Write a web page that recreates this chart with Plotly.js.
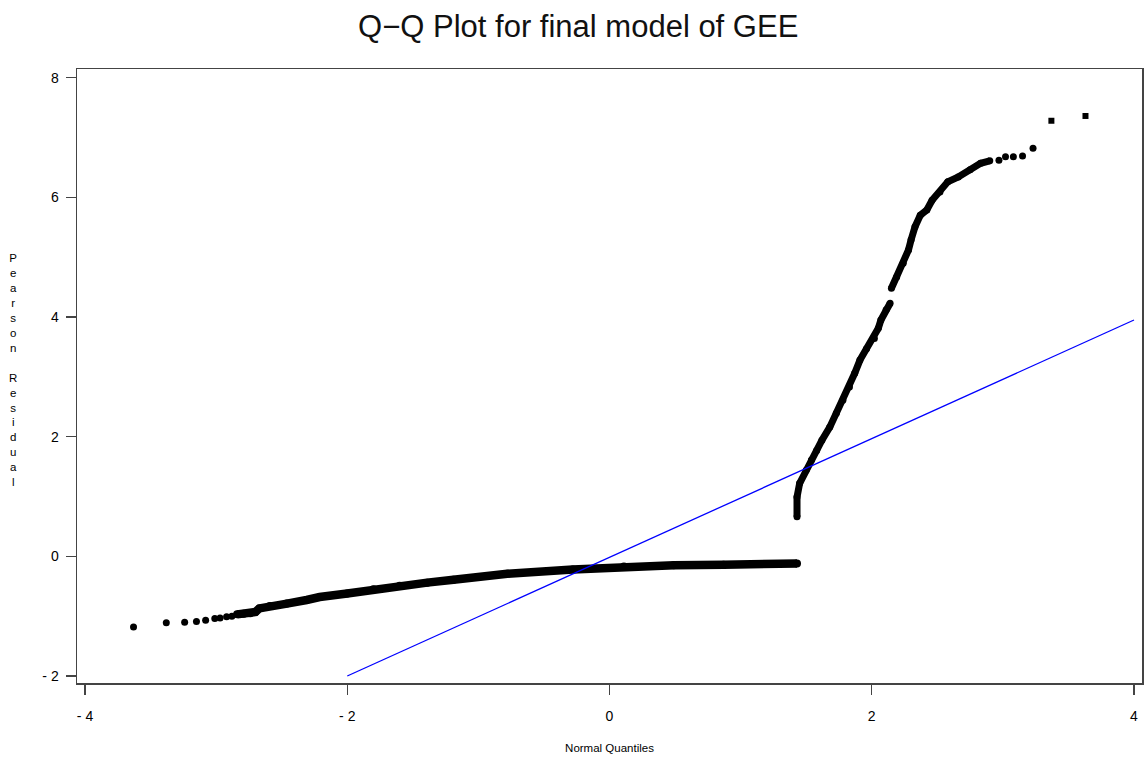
<!DOCTYPE html>
<html>
<head>
<meta charset="utf-8">
<script src="https://cdn.plot.ly/plotly-3.0.1.min.js"></script>
<style>html,body{margin:0;padding:0;background:#fff;}#chart{width:1145px;height:758px;}</style>
</head>
<body>
<div id="chart"></div>
<script>
// Lower tail (isolated points)
const lowTailX = [-3.63, -3.38, -3.24, -3.15, -3.08, -3.01, -2.97, -2.92, -2.88];
const lowTailY = [-1.18, -1.11, -1.10, -1.09, -1.07, -1.04, -1.03, -1.01, -1.00];
// Lower dense branch
const lowX = [-2.84, -2.79, -2.74, -2.70, -2.67, -2.59, -2.46, -2.31, -2.21, -2.00, -1.80, -1.60, -1.39, -1.19, -0.78, -0.28, 0.11, 0.49, 0.87, 1.25, 1.43];
const lowY = [-0.97, -0.96, -0.95, -0.93, -0.87, -0.83, -0.79, -0.73, -0.68, -0.62, -0.55, -0.49, -0.44, -0.39, -0.29, -0.22, -0.17, -0.15, -0.14, -0.13, -0.12];
// Upper dense branch
const upX = [1.43, 1.43, 1.45, 1.50, 1.54, 1.58, 1.62, 1.68, 1.73, 1.78, 1.83, 1.87, 1.91, 1.96, 2.02, 2.05, 2.07, 2.11, 2.14, null, 2.15, 2.19, 2.24, 2.28, 2.30, 2.33, 2.37, 2.42, 2.46, 2.52, 2.58, 2.66, 2.75, 2.83, 2.90];
const upY = [0.66, 0.99, 1.22, 1.44, 1.61, 1.77, 1.94, 2.16, 2.39, 2.61, 2.83, 3.06, 3.28, 3.47, 3.64, 3.81, 3.95, 4.12, 4.23, null, 4.48, 4.67, 4.90, 5.12, 5.29, 5.51, 5.70, 5.79, 5.95, 6.09, 6.26, 6.34, 6.46, 6.57, 6.61];
// Upper tail (isolated points)
const upTailX = [2.97, 3.02, 3.08, 3.15, 3.23];
const upTailY = [6.62, 6.68, 6.68, 6.69, 6.82];
// Extreme points (square symbols)
const extX = [3.37, 3.63];
const extY = [7.28, 7.36];
// Reference line
const refX = [-2, 4];
const refY = [-2.0, 3.95];

const xTicks = [-4, -2, 0, 2, 4];
const xTickText = ['- 4', '- 2', '0', '2', '4'];
const yTicks = [-2, 0, 2, 4, 6, 8];
const yTickText = ['- 2', '0', '2', '4', '6', '8'];

const black = '#000000';
const traces = [
  {x: lowTailX, y: lowTailY, mode: 'markers', type: 'scatter', marker: {color: black, size: 7}, hoverinfo: 'skip'},
  {x: lowX, y: lowY, mode: 'lines+markers', type: 'scatter', line: {color: black, width: 8.5}, marker: {color: black, size: 8}, hoverinfo: 'skip'},
  {x: upX, y: upY, mode: 'lines+markers', type: 'scatter', connectgaps: false, line: {color: black, width: 7}, marker: {color: black, size: 7}, hoverinfo: 'skip'},
  {x: upTailX, y: upTailY, mode: 'markers', type: 'scatter', marker: {color: black, size: 7}, hoverinfo: 'skip'},
  {x: extX, y: extY, mode: 'markers', type: 'scatter', marker: {color: black, size: 6, symbol: 'square'}, hoverinfo: 'skip'},
  {x: refX, y: refY, mode: 'lines', type: 'scatter', line: {color: '#0000ff', width: 1.3}, hoverinfo: 'skip'}
];

const layout = {
  width: 1145, height: 758,
  margin: {l: 77, r: 3, t: 69, b: 75},
  paper_bgcolor: '#ffffff', plot_bgcolor: '#ffffff',
  showlegend: false,
  font: {family: 'Liberation Sans, Arial, sans-serif', color: '#000'},
  title: {text: 'Q\u2212Q Plot for final model of GEE', x: 0.505, xanchor: 'center', y: 0.966, yanchor: 'middle',
          font: {size: 31, family: 'Liberation Sans, Arial, sans-serif', color: '#111'}},
  xaxis: {range: [-4.061, 4.061], tickvals: xTicks, ticktext: xTickText, ticks: 'outside', ticklen: 10, tickwidth: 1.3, tickcolor: '#444',
          showline: true, mirror: true, linecolor: '#444', linewidth: 1.5, showgrid: false, zeroline: false,
          tickfont: {size: 14, color: '#000'}, ticklabelstandoff: 10,
          title: {text: 'Normal Quantiles', font: {size: 11.5, color: '#000'}, standoff: 20}},
  yaxis: {range: [-2.117, 8.145], tickvals: yTicks, ticktext: yTickText, ticks: 'outside', ticklen: 10, tickwidth: 1.3, tickcolor: '#444',
          showline: true, mirror: true, linecolor: '#444', linewidth: 1.5, showgrid: false, zeroline: false,
          tickfont: {size: 14, color: '#000'}, ticklabelstandoff: 4},
  annotations: [{
    text: 'P<br>e<br>a<br>r<br>s<br>o<br>n<br> <br>R<br>e<br>s<br>i<br>d<br>u<br>a<br>l',
    xref: 'paper', yref: 'paper', x: -0.06, y: 0.51, xanchor: 'center', yanchor: 'middle',
    showarrow: false, font: {size: 11.5, color: '#000'}, align: 'center'
  }]
};

Plotly.newPlot('chart', traces, layout, {displayModeBar: false, staticPlot: true});
</script>
</body>
</html>
